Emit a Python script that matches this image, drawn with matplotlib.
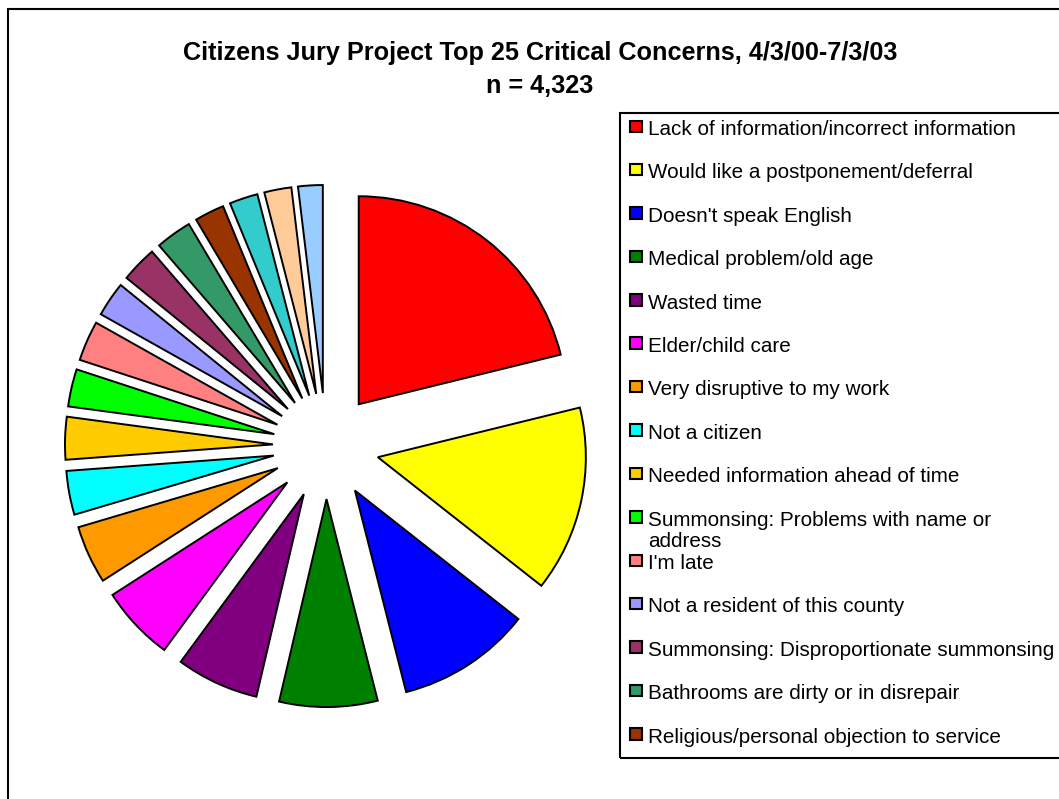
import matplotlib
matplotlib.use("Agg")
import matplotlib.pyplot as plt
from matplotlib.patches import Rectangle

plt.rcParams['font.family'] = ['Liberation Sans', 'DejaVu Sans']

# share of concerns (%), clockwise from 12 o'clock
shares = [21.1, 14.4, 10.4, 7.6, 6.4, 5.8, 4.5, 3.4, 3.3, 2.9, 3.1,
          2.7, 2.8, 2.8, 2.3, 2.2, 2.1, 1.9]
colors = ['#FF0000', '#FFFF00', '#0000FF', '#008000', '#800080', '#FF00FF',
          '#FF9900', '#00FFFF', '#FFCC00', '#00FF00', '#FF8080', '#9999FF',
          '#993366', '#339966', '#993300', '#33CCCC', '#FFCC99', '#99CCFF']
# only the first 15 fit in the legend box
labels = ['Lack of information/incorrect information',
          'Would like a postponement/deferral',
          "Doesn't speak English",
          'Medical problem/old age',
          'Wasted time',
          'Elder/child care',
          'Very disruptive to my work',
          'Not a citizen',
          'Needed information ahead of time',
          'Summonsing: Problems with name or\naddress',
          "I'm late",
          'Not a resident of this county',
          'Summonsing: Disproportionate summonsing',
          'Bathrooms are dirty or in disrepair',
          'Religious/personal objection to service']

W, H = 1059, 799
fig = plt.figure(figsize=(W / 100, H / 100), dpi=100)

def fx(px):
    return px / W

def fy(py):
    return 1 - py / H

# outer chart border (runs off the right and bottom)
fig.patches.append(Rectangle((fx(8), fy(H + 20)), fx(W + 20), fy(9) - fy(H + 20),
                             transform=fig.transFigure, fill=False,
                             edgecolor='black', linewidth=1.5))

# pie: centre (326, 446) px, radius 208 px
r = 208
half = 1.5
cx, cy = 326, 446
ax = fig.add_axes([fx(cx - half * r), fy(cy + half * r),
                   2 * half * r / W, 2 * half * r / H])
ax.pie(shares, colors=colors, startangle=90, counterclock=False,
       explode=[0.255] * len(shares), radius=1,
       wedgeprops=dict(edgecolor='black', linewidth=1.4))
ax.set_xlim(-half, half)
ax.set_ylim(-half, half)
ax.set_aspect('equal')
ax.axis('off')

fig.text(fx(540), fy(53), 'Citizens Jury Project Top 25 Critical Concerns, 4/3/00-7/3/03',
         ha='center', va='center', fontsize=18.2, fontweight='bold')
fig.text(fx(540), fy(86), 'n = 4,323', ha='center', va='center',
         fontsize=18.2, fontweight='bold')

# legend box, drawn by hand
fig.patches.append(Rectangle((fx(620), fy(758)), fx(W + 20 - 620), fy(113) - fy(758),
                             transform=fig.transFigure, fill=False,
                             edgecolor='black', linewidth=1.5))
for i, lab in enumerate(labels):
    y = 128 + 43.4 * i
    fig.patches.append(Rectangle((fx(630), fy(y + 4)), fx(11.5), fy(y - 7.5) - fy(y + 4),
                                 transform=fig.transFigure, facecolor=colors[i],
                                 edgecolor='black', linewidth=1.5))
    fig.text(fx(648), fy(y - 8), lab, ha='left', va='top', fontsize=14.9,
             linespacing=1.17)

fig.savefig('out.png', dpi=100)
